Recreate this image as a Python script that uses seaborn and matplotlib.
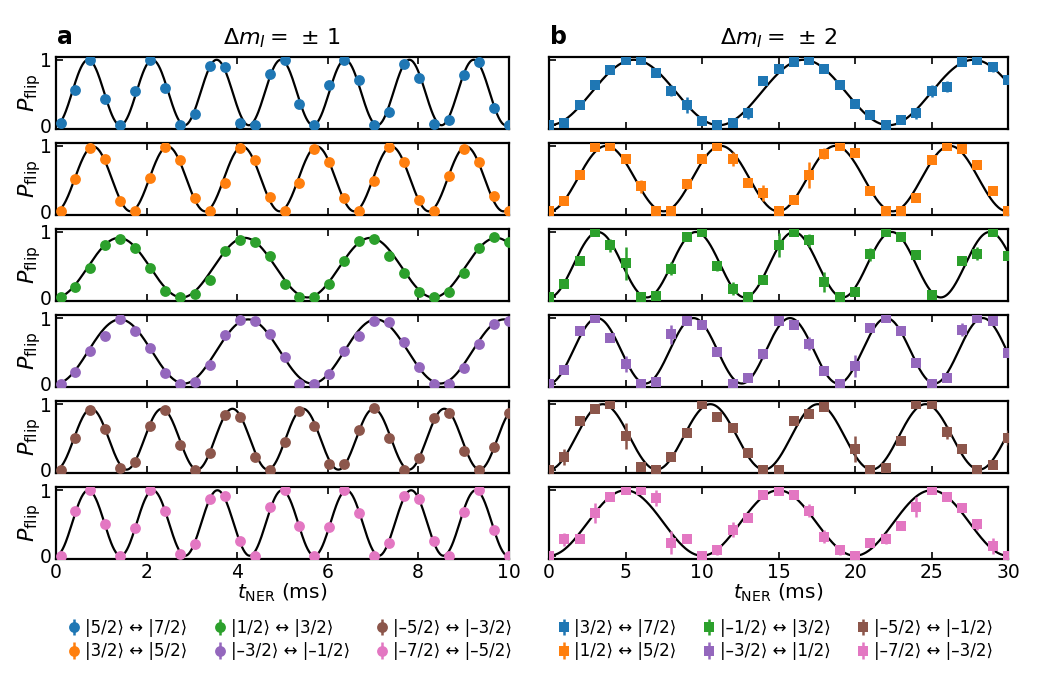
import numpy as np
import matplotlib
matplotlib.use("Agg")
import matplotlib.pyplot as plt
import seaborn as sns

sns.set_theme(style="ticks")
plt.rcParams["font.family"] = ["DejaVu Sans"]
plt.rcParams["mathtext.fontset"] = "dejavusans"
plt.rcParams["xtick.direction"] = "in"
plt.rcParams["ytick.direction"] = "in"
for key in ["text.color", "axes.labelcolor", "xtick.color", "ytick.color", "axes.edgecolor"]:
    plt.rcParams[key] = "black"

colors = ["#1f77b4", "#ff7f0e", "#2ca02c", "#9467bd", "#8c564b", "#e377c2"]

labels_a = ["|5/2⟩ ↔ |7/2⟩", "|3/2⟩ ↔ |5/2⟩", "|1/2⟩ ↔ |3/2⟩",
            "|–3/2⟩ ↔ |–1/2⟩", "|–5/2⟩ ↔ |–3/2⟩", "|–7/2⟩ ↔ |–5/2⟩"]
labels_b = ["|3/2⟩ ↔ |7/2⟩", "|1/2⟩ ↔ |5/2⟩", "|–1/2⟩ ↔ |3/2⟩",
            "|–3/2⟩ ↔ |1/2⟩", "|–5/2⟩ ↔ |–1/2⟩", "|–7/2⟩ ↔ |–3/2⟩"]

# measurement times (ms)
t_a = [0.10, 0.43, 0.76, 1.09, 1.42, 1.75, 2.08, 2.41, 2.74, 3.07, 3.40,
       3.73, 4.06, 4.39, 4.72, 5.05, 5.38, 5.71, 6.04, 6.37, 6.70, 7.03,
       7.36, 7.69, 8.02, 8.35, 8.68, 9.01, 9.34, 9.67, 10.00]
t_b = [0, 1, 2, 3, 4, 5, 6, 7, 8, 9, 10, 11, 12, 13, 14, 15, 16, 17, 18, 19,
       20, 21, 22, 23, 24, 25, 26, 27, 28, 29, 30]

# panel a: measured flip probabilities
p_a_blue = [0.04, 0.54, 1.00, 0.40, 0.00, 0.52, 0.99, 0.57, 0.00, 0.17, 0.91,
            0.89, 0.04, 0.00, 0.79, 1.00, 0.32, 0.00, 0.61, 0.99, 0.69, 0.00,
            0.20, 0.94, 0.72, 0.02, 0.08, 0.77, 0.97, 0.27, 0.00]
p_a_orange = [0.00, 0.49, 0.97, 0.80, 0.16, 0.00, 0.51, 0.99, 0.79, 0.20, 0.00,
              0.44, 0.97, 0.79, 0.22, 0.00, 0.44, 0.95, 0.76, 0.21, 0.00, 0.47,
              0.99, 0.76, 0.17, 0.00, 0.54, 0.95, 0.76, 0.23, 0.00]
p_a_green = [0.00, 0.16, 0.45, 0.80, 0.90, 0.75, 0.45, 0.10, 0.00, 0.05, 0.26,
             0.71, 0.88, 0.85, 0.63, 0.20, 0.00, 0.00, 0.21, 0.55, 0.86, 0.90,
             0.64, 0.38, 0.09, 0.00, 0.09, 0.38, 0.75, 0.93, 0.85]
p_a_purple = [0.00, 0.17, 0.50, 0.72, 0.99, 0.81, 0.54, 0.16, 0.00, 0.03, 0.29,
              0.74, 0.97, 0.96, 0.76, 0.40, 0.00, 0.00, 0.14, 0.50, 0.73, 0.96,
              0.94, 0.64, 0.25, 0.00, 0.00, 0.24, 0.61, 0.91, 0.96]
p_a_brown = [0.00, 0.49, 0.91, 0.62, 0.03, 0.12, 0.66, 0.91, 0.38, 0.00, 0.25,
             0.84, 0.81, 0.19, 0.00, 0.42, 0.90, 0.66, 0.09, 0.08, 0.61, 0.94,
             0.48, 0.00, 0.18, 0.79, 0.86, 0.29, 0.00, 0.34, 0.86]
p_a_pink = [0.00, 0.68, 1.00, 0.49, 0.00, 0.42, 1.00, 0.68, 0.03, 0.18, 0.86,
            0.91, 0.23, 0.00, 0.75, 1.00, 0.46, 0.00, 0.44, 1.00, 0.65, 0.00,
            0.19, 0.91, 0.86, 0.23, 0.00, 0.67, 1.00, 0.39, 0.00]

e_a_blue = [0.02, 0.04, 0.02, 0.03, 0.02, 0.06, 0.02, 0.03, 0.02, 0.03, 0.03,
            0.03, 0.02, 0.02, 0.03, 0.02, 0.03, 0.02, 0.03, 0.02, 0.04, 0.02,
            0.03, 0.03, 0.04, 0.02, 0.03, 0.03, 0.02, 0.07, 0.02]
e_a_orange = [0.02, 0.03, 0.02, 0.03, 0.03, 0.02, 0.03, 0.02, 0.03, 0.03, 0.02,
              0.03, 0.02, 0.03, 0.03, 0.02, 0.03, 0.02, 0.03, 0.03, 0.02, 0.03,
              0.02, 0.03, 0.03, 0.02, 0.03, 0.02, 0.03, 0.03, 0.02]
e_a_green = [0.02, 0.03, 0.03, 0.03, 0.02, 0.03, 0.03, 0.03, 0.02, 0.02, 0.03,
             0.03, 0.02, 0.03, 0.03, 0.03, 0.02, 0.02, 0.03, 0.03, 0.03, 0.02,
             0.03, 0.03, 0.03, 0.02, 0.03, 0.03, 0.03, 0.02, 0.03]
e_a_purple = [0.02, 0.03, 0.03, 0.03, 0.02, 0.03, 0.03, 0.03, 0.02, 0.02, 0.03,
              0.03, 0.02, 0.02, 0.03, 0.03, 0.02, 0.02, 0.03, 0.03, 0.03, 0.02,
              0.02, 0.03, 0.03, 0.02, 0.02, 0.03, 0.03, 0.03, 0.02]
e_a_brown = [0.02, 0.03, 0.02, 0.03, 0.02, 0.03, 0.03, 0.02, 0.03, 0.02, 0.03,
             0.03, 0.03, 0.03, 0.02, 0.03, 0.02, 0.03, 0.03, 0.03, 0.03, 0.02,
             0.03, 0.02, 0.03, 0.03, 0.03, 0.03, 0.02, 0.03, 0.03]
e_a_pink = [0.02, 0.03, 0.02, 0.03, 0.02, 0.03, 0.02, 0.03, 0.02, 0.03, 0.03,
            0.03, 0.03, 0.02, 0.03, 0.02, 0.03, 0.02, 0.03, 0.02, 0.03, 0.02,
            0.03, 0.03, 0.03, 0.03, 0.02, 0.03, 0.02, 0.03, 0.02]

# panel b: measured flip probabilities (nan = no point)
p_b_blue = [0.00, 0.04, 0.31, 0.62, 0.84, 1.00, 1.00, 0.80, 0.53, 0.31, 0.06,
            0.00, 0.03, 0.18, 0.67, 0.86, 0.96, 1.00, 0.86, 0.61, 0.33, 0.15,
            0.00, 0.08, 0.18, 0.52, 0.59, 0.96, 1.00, 0.89, 0.69]
p_b_orange = [0.00, 0.16, 0.56, 0.98, 1.00, 0.80, 0.38, 0.00, 0.00, 0.41, 0.80,
              1.00, 0.80, 0.43, 0.28, 0.00, 0.17, 0.56, 0.88, 1.00, 0.89, 0.31,
              0.00, 0.00, 0.20, 0.78, 1.00, 0.95, 0.71, 0.31, 0.00]
p_b_green = [0.00, 0.21, 0.56, 1.00, 0.80, 0.52, 0.00, 0.02, 0.44, 0.93, 1.00,
             0.48, 0.13, 0.00, 0.26, 0.80, 1.00, 0.87, 0.24, 0.00, 0.08, 0.66,
             1.00, 0.92, 0.65, 0.04, np.nan, 0.55, 0.67, 1.00, 0.63]
p_b_purple = [0.00, 0.20, 0.81, 1.00, 0.70, 0.30, 0.00, 0.03, 0.75, 0.95, 0.89,
              0.48, 0.00, 0.08, 0.45, 0.96, 0.89, 0.61, 0.19, 0.00, 0.27, 0.85,
              1.00, 0.81, 0.32, 0.00, 0.08, 0.82, 1.00, 0.95, 0.47]
p_b_brown = [0.00, 0.19, 0.75, 0.93, 1.00, 0.52, 0.04, 0.00, 0.19, 0.56, 1.00,
             0.80, 0.63, 0.26, 0.00, 0.00, 0.75, 0.85, 0.96, np.nan, 0.31, 0.00,
             0.02, 0.44, 1.00, 1.00, 0.57, 0.31, 0.00, 0.07, 0.49]
p_b_pink = [0.00, 0.25, 0.26, 0.65, 0.90, 1.00, 1.00, 0.88, 0.20, 0.25, 0.00,
            0.08, 0.40, 0.58, 0.93, 0.99, 0.93, 0.69, 0.29, 0.08, 0.00, 0.20,
            0.26, 0.45, 0.74, 1.00, 0.89, 0.73, 0.48, 0.15, 0.00]

e_b_blue = [0.02, 0.03, 0.03, 0.04, 0.05, 0.02, 0.02, 0.04, 0.09, 0.12, 0.03,
            0.02, 0.02, 0.08, 0.06, 0.03, 0.03, 0.02, 0.05, 0.06, 0.03, 0.04,
            0.02, 0.06, 0.09, 0.09, 0.08, 0.03, 0.03, 0.08, 0.04]
e_b_orange = [0.02, 0.03, 0.03, 0.02, 0.02, 0.05, 0.10, 0.02, 0.02, 0.07, 0.04,
              0.02, 0.10, 0.04, 0.12, 0.02, 0.03, 0.20, 0.08, 0.02, 0.03, 0.03,
              0.02, 0.02, 0.06, 0.03, 0.02, 0.02, 0.03, 0.03, 0.02]
e_b_green = [0.02, 0.03, 0.03, 0.02, 0.10, 0.25, 0.02, 0.02, 0.10, 0.05, 0.03,
             0.08, 0.10, 0.02, 0.06, 0.18, 0.05, 0.10, 0.15, 0.02, 0.03, 0.10,
             0.02, 0.05, 0.03, 0.02, 0.03, 0.06, 0.10, 0.02, 0.03]
e_b_purple = [0.02, 0.03, 0.03, 0.02, 0.03, 0.12, 0.02, 0.02, 0.15, 0.03, 0.05,
              0.03, 0.02, 0.05, 0.08, 0.06, 0.06, 0.10, 0.06, 0.02, 0.17, 0.05,
              0.02, 0.05, 0.06, 0.02, 0.06, 0.10, 0.02, 0.04, 0.03]
e_b_brown = [0.02, 0.12, 0.03, 0.03, 0.02, 0.20, 0.03, 0.02, 0.05, 0.03, 0.05,
             0.03, 0.05, 0.03, 0.02, 0.02, 0.03, 0.03, 0.07, 0.02, 0.20, 0.02,
             0.02, 0.03, 0.03, 0.05, 0.10, 0.05, 0.02, 0.03, 0.12]
e_b_pink = [0.02, 0.10, 0.03, 0.15, 0.05, 0.03, 0.03, 0.12, 0.18, 0.03, 0.02,
            0.07, 0.12, 0.07, 0.04, 0.03, 0.04, 0.10, 0.10, 0.07, 0.02, 0.03,
            0.08, 0.03, 0.15, 0.05, 0.06, 0.03, 0.08, 0.12, 0.03]

# fitted oscillation parameters (period in ms, amplitude)
fit_period_a = [1.42, 1.648, 2.78, 2.83, 1.56, 1.427]
fit_amp_a = [1.00, 0.99, 0.91, 0.98, 0.93, 1.00]
fit_period_b = [11.1, 7.49, 6.4, 6.3, 7.03, 10.0]
fit_amp_b = [1.00, 1.00, 1.00, 1.00, 1.00, 1.00]

data_a = [p_a_blue, p_a_orange, p_a_green, p_a_purple, p_a_brown, p_a_pink]
err_a = [e_a_blue, e_a_orange, e_a_green, e_a_purple, e_a_brown, e_a_pink]
data_b = [p_b_blue, p_b_orange, p_b_green, p_b_purple, p_b_brown, p_b_pink]
err_b = [e_b_blue, e_b_orange, e_b_green, e_b_purple, e_b_brown, e_b_pink]

W, H = 1050, 675
fig = plt.figure(figsize=(W / 100, H / 100), dpi=100)

row_tops = [56.5, 142.6, 228.7, 314.8, 400.9, 487.0]
row_h = 72.0
panels = [
    dict(left=56, width=452.5, t=t_a, data=data_a, err=err_a, per=fit_period_a,
         amp=fit_amp_a, xmax=10, xticks=[0, 2, 4, 6, 8, 10], marker="o", ms=7.8,
         labels=labels_a, title=r"$\Delta m_I = \,\pm\,1$", tag="a", legdx=8),
    dict(left=549, width=459, t=t_b, data=data_b, err=err_b, per=fit_period_b,
         amp=fit_amp_b, xmax=30, xticks=[0, 5, 10, 15, 20, 25, 30], marker="s", ms=7.0,
         labels=labels_b, title=r"$\Delta m_I = \,\pm\,2$", tag="b", legdx=-3),
]

for pi, P in enumerate(panels):
    handles = []
    tt = np.linspace(0, P["xmax"], 600)
    for r in range(6):
        top = row_tops[r]
        ax = fig.add_axes([P["left"] / W, 1 - (top + row_h) / H, P["width"] / W, row_h / H])
        curve = P["amp"][r] * np.sin(np.pi * tt / P["per"][r]) ** 2
        sns.lineplot(x=tt, y=curve, ax=ax, color="black", lw=1.6, zorder=2)
        h = ax.errorbar(P["t"], P["data"][r], yerr=P["err"][r], fmt=P["marker"],
                        color=colors[r], ms=P["ms"], elinewidth=1.8, capsize=0,
                        mew=0, zorder=3, label=P["labels"][r])
        handles.append(h)
        ax.set_xlim(0, P["xmax"])
        ax.set_ylim(-0.05, 1.05)
        ax.set_xticks(P["xticks"])
        ax.set_yticks([0, 1])
        ax.tick_params(axis="both", which="both", direction="in", length=5, width=1.2,
                       top=True, bottom=True, left=True, right=False, labelsize=13.5,
                       pad=3, colors="black")
        for s in ax.spines.values():
            s.set_linewidth(1.6)
            s.set_color("black")
        if pi == 0:
            ax.set_yticklabels(["0", "1"])
            ax.set_ylabel(r"$P_{\rm flip}$", fontsize=16, labelpad=-2.5)
        else:
            ax.set_yticklabels([])
            ax.set_ylabel("")
        if r < 5:
            ax.set_xticklabels([])
            ax.set_xlabel("")
        else:
            ax.set_xlabel(r"$t_{\rm NER}$ (ms)", fontsize=14.5, labelpad=0)
        if r == 0:
            ax.set_title(P["title"], fontsize=16, pad=9)
            fig.text((P["left"] + 1) / W, 1 - 44 / H, P["tag"], fontsize=17,
                     fontweight="bold", ha="left", va="baseline")
    cx = (P["left"] + P["width"] / 2 + P["legdx"]) / W
    fig.legend(handles, P["labels"], ncol=3, loc="upper center",
               bbox_to_anchor=(cx, 1 - 612 / H), frameon=False, fontsize=12,
               handlelength=0.7, handletextpad=0.3, columnspacing=1.6,
               labelspacing=0.35, borderaxespad=0)

fig.savefig("out.png", dpi=100)
